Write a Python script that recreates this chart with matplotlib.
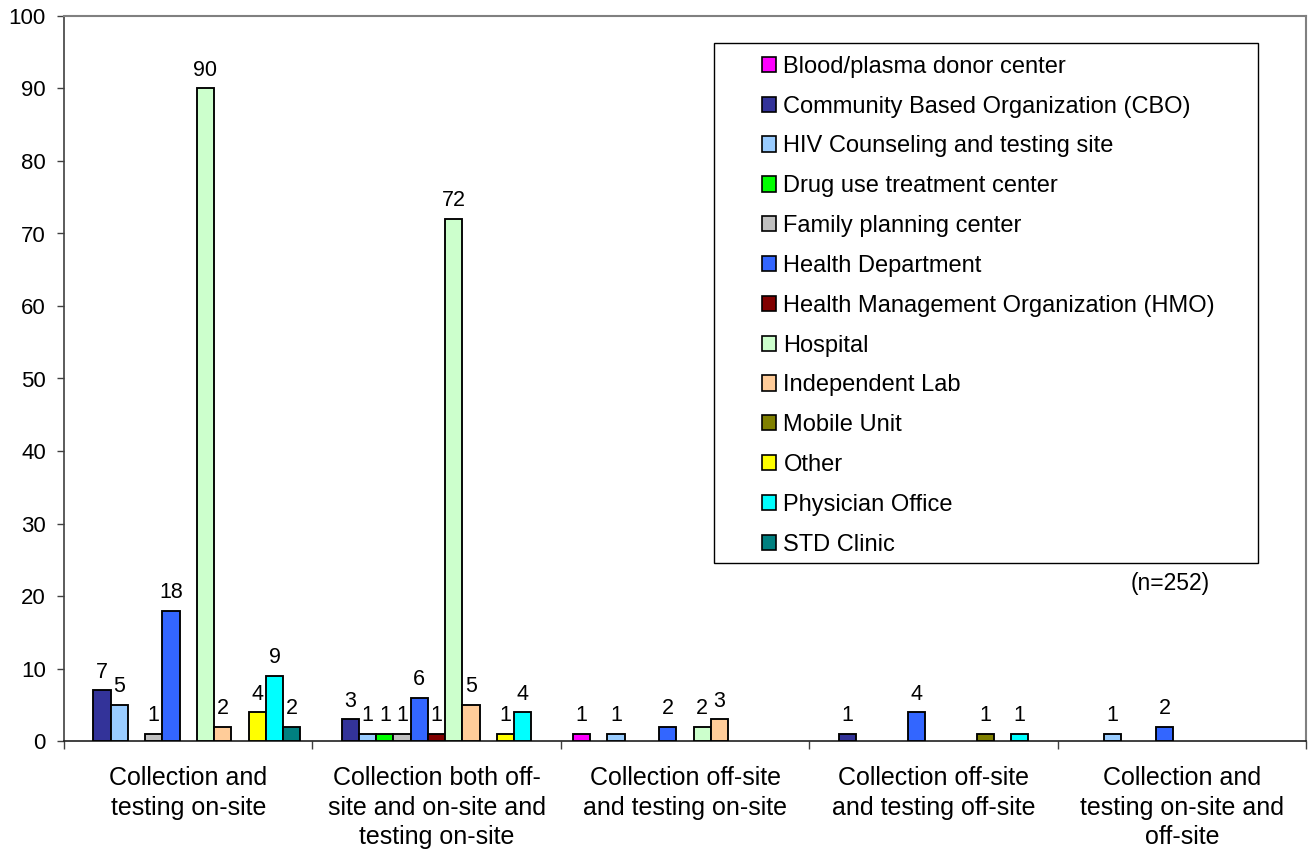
import matplotlib
matplotlib.use("Agg")
import matplotlib.pyplot as plt
from matplotlib.patches import Rectangle, Patch
import numpy as np

plt.rcParams['font.family'] = ['Liberation Sans', 'DejaVu Sans']

categories = [
    "Collection and\ntesting on-site",
    "Collection both off-\nsite and on-site and\ntesting on-site",
    "Collection off-site\nand testing on-site",
    "Collection off-site\nand testing off-site",
    "Collection and\ntesting on-site and\noff-site",
]

series_names = [
    "Blood/plasma donor center",
    "Community Based Organization (CBO)",
    "HIV Counseling and testing site",
    "Drug use treatment center",
    "Family planning center",
    "Health Department",
    "Health Management Organization (HMO)",
    "Hospital",
    "Independent Lab",
    "Mobile Unit",
    "Other",
    "Physician Office",
    "STD Clinic",
]

blood      = [0, 0, 1, 0, 0]
cbo        = [7, 3, 0, 1, 0]
hiv        = [5, 1, 1, 0, 1]
drug       = [0, 1, 0, 0, 0]
family     = [1, 1, 0, 0, 0]
health_dep = [18, 6, 2, 4, 2]
hmo        = [0, 1, 0, 0, 0]
hospital   = [90, 72, 2, 0, 0]
lab        = [2, 5, 3, 0, 0]
mobile     = [0, 0, 0, 1, 0]
other      = [4, 1, 0, 0, 0]
physician  = [9, 4, 0, 1, 0]
std        = [2, 0, 0, 0, 0]

series_values = [blood, cbo, hiv, drug, family, health_dep, hmo,
                 hospital, lab, mobile, other, physician, std]

colors = ["#FF00FF", "#333399", "#99CCFF", "#00FF00", "#C0C0C0", "#3366FF",
          "#800000", "#CCFFCC", "#FFCC99", "#808000", "#FFFF00", "#00FFFF",
          "#008080"]

W, H = 1312, 855
fig = plt.figure(figsize=(W / 100, H / 100), dpi=100)
ax_l, ax_r, ax_t, ax_b = 64, 1306, 16, 741
ax = fig.add_axes([ax_l / W, 1 - ax_b / H, (ax_r - ax_l) / W, (ax_b - ax_t) / H])

n = len(series_names)
bw = 1 / 14.4
x = np.arange(len(categories))
for i, (vals, col) in enumerate(zip(series_values, colors)):
    offs = (i - (n - 1) / 2) * bw
    for xi, v in zip(x, vals):
        if v > 0:
            ax.bar(xi + offs, v, width=bw, color=col, edgecolor='black',
                   linewidth=1.35, zorder=3)
            ax.annotate(str(v), (xi + offs, v), xytext=(0, 9),
                        textcoords='offset points', ha='center', va='baseline',
                        fontsize=15.5, color='black', zorder=4)

ax.set_xlim(-0.5, len(categories) - 0.5)
ax.set_ylim(0, 100)
ax.set_yticks(np.arange(0, 101, 10))
ax.tick_params(axis='y', direction='out', length=5, width=1, pad=8,
               labelsize=16, color='#404040')

ax.set_xticks(np.arange(-0.5, len(categories), 1))
ax.set_xticklabels([])
ax.set_xticks(x, minor=True)
ax.set_xticklabels(categories, minor=True, fontsize=18, linespacing=1.3)
ax.tick_params(axis='x', which='major', direction='out', length=6, width=1,
               color='#404040')
ax.tick_params(axis='x', which='minor', length=0, pad=18)

for s in ['top', 'right']:
    ax.spines[s].set_color('#808080')
    ax.spines[s].set_linewidth(1.5)
ax.spines['left'].set_color('#404040')
ax.spines['left'].set_linewidth(1.2)
ax.spines['bottom'].set_color('#202020')
ax.spines['bottom'].set_linewidth(1.2)

# legend frame
lx0, lx1, ly0, ly1 = 714, 1258, 43, 563
fig.patches.append(Rectangle((lx0 / W, 1 - ly1 / H), (lx1 - lx0) / W,
                             (ly1 - ly0) / H, transform=fig.transFigure,
                             facecolor='white', edgecolor='black',
                             linewidth=1.0, zorder=5))
handles = [Patch(facecolor=c, edgecolor='black', linewidth=1.2) for c in colors]
leg = fig.legend(handles, series_names, loc='upper left',
                 bbox_to_anchor=(757 / W, 1 - 51 / H), frameon=False,
                 fontsize=17, handlelength=0.62, handleheight=0.62,
                 handletextpad=0.3, labelspacing=0.755, borderpad=0.2,
                 borderaxespad=0)
leg.set_zorder(6)

ax.text((1170 - ax_l) / (ax_r - ax_l), (ax_b - 583) / (ax_b - ax_t), "(n=252)",
        transform=ax.transAxes, ha='center', va='center', fontsize=16.5)

fig.savefig("out.png", dpi=100)
